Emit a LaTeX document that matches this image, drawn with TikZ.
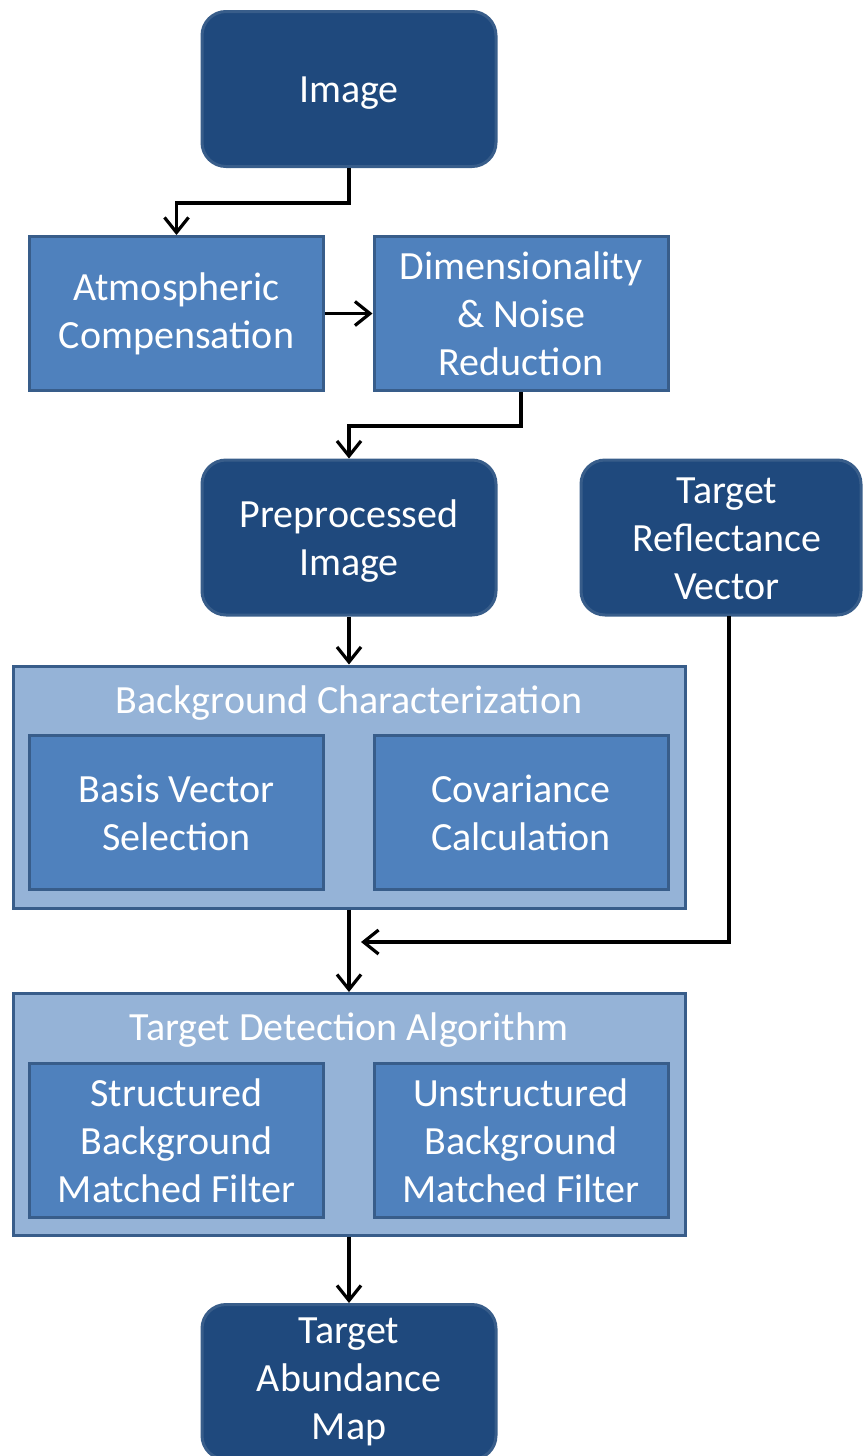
\documentclass[tikz,border=0pt]{standalone}
\usepackage{fontspec}
\setmainfont{Carlito}
\usetikzlibrary{arrows.meta}
\definecolor{darkfill}{HTML}{1F497D}
\definecolor{midfill}{HTML}{4F81BD}
\definecolor{lightfill}{HTML}{95B3D7}
\definecolor{edge}{HTML}{385D8A}
\tikzset{
  base/.style={draw=edge, line width=3pt, text=white, align=center, inner sep=0pt,
    font=\fontsize{40}{48}\selectfont},
  darkbox/.style={base, fill=darkfill, rounded corners=24pt, minimum width=294pt, minimum height=155pt},
  midbox/.style={base, fill=midfill, minimum width=294pt, minimum height=154pt},
  group/.style={base, fill=lightfill, minimum width=672pt, minimum height=242pt},
  title/.style={text=white, align=center, font=\fontsize{40}{48}\selectfont, inner sep=0pt},
  conn/.style={line width=3.2pt, -{Straight Barb[length=15pt,width=24pt,line width=3.2pt]}},
}
\begin{document}
\begin{tikzpicture}[x=1pt,y=-1pt]
\useasboundingbox (0,0) rectangle (864,1456);
\node[darkbox] (img) at (349,89) {};
\node[title] (imgt) at (349,93) {Image};
\node[midbox] (atm) at (176.5,313.5) {Atmospheric\\Compensation};
\node[midbox] (dim) at (521,313.5) {Dimensionality\\\& Noise\\Reduction};
\node[darkbox] (pre) at (349,537.5) {};
\node[title] (pret) at (349,541) {Preprocessed\\Image};
\node[darkbox, minimum width=280pt] (trv) at (721,537.5) {};
\node[title] (trvt) at (727,538.5) {Target\\Reflectance\\Vector};
\node[group] (bg) at (349,787) {};
\node[title] (bgt) at (349,703) {Background Characterization};
\node[midbox] (bvs) at (176.5,812.5) {Basis Vector\\Selection};
\node[midbox] (cov) at (521,812.5) {Covariance\\Calculation};
\node[group] (tda) at (349,1114.5) {};
\node[title] (tdat) at (349,1030) {Target Detection Algorithm};
\node[midbox] (sbm) at (176.5,1140.5) {Structured\\Background\\Matched Filter};
\node[midbox] (ubm) at (521,1140.5) {Unstructured\\Background\\Matched Filter};
\node[darkbox] (tam) at (349,1382) {Target\\Abundance\\Map};
\coordinate (join) at (361,942);
\coordinate (trvout) at (729,616);
\draw[conn] (img.south) |- (263,203) -| (atm.north);
\draw[conn] (atm.east) -- (dim.west);
\draw[conn] (dim.south) |- (435,426) -| (pre.north);
\draw[conn] (pre.south) -- (bg.north);
\draw[conn] (bg.south) -- (tda.north);
\draw[conn] (trvout) |- (join);
\draw[conn] (tda.south) -- (tam.north);
\end{tikzpicture}
\end{document}
